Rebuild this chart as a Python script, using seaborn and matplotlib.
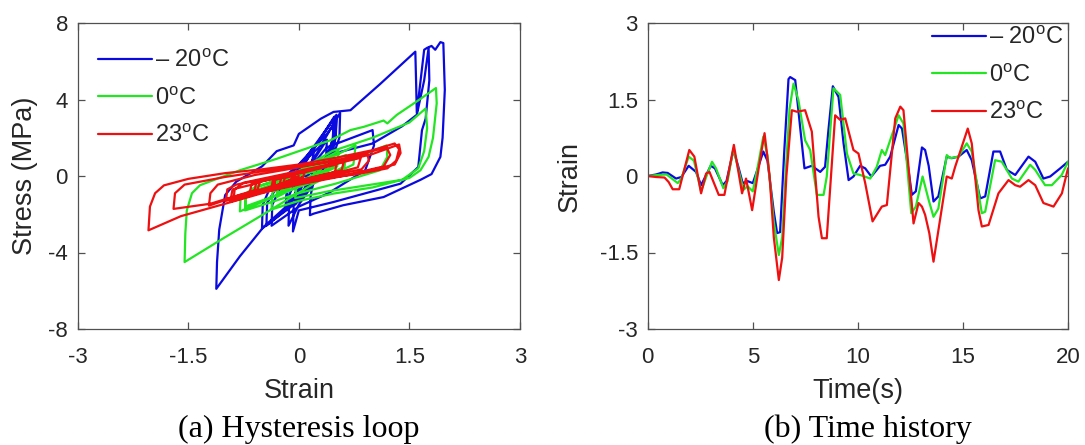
import matplotlib
matplotlib.use("Agg")
import matplotlib.pyplot as plt
import seaborn as sns
import pandas as pd

# ---------------- data ----------------
labels = ["\u2013 20$^{\\mathrm{o}}$C", "0$^{\\mathrm{o}}$C", "23$^{\\mathrm{o}}$C"]
colors = ["#0a0ae0", "#22e622", "#ee1010"]

# Hysteresis loops: (strain, stress) vertices, -20 degC
loop_m20_strain = [0.0, 0.07, 0.05, -0.05, -0.04, 0.2, 0.18, -0.18, -0.16, 0.2, 0.18, -0.18, -0.15,
                   0.51, 0.5, 0.45, 0.0, -0.14, -0.13, 0.0, 0.48, 0.46, 0.4, 0.0, -0.48, -0.8, -1.12,
                   -1.11, -1.08, -1.0, -0.85, -0.5, -0.3, -0.07, 0.0, 0.3, 0.47, 0.7, 1.1, 1.58, 1.59,
                   1.6, 1.7, 1.74, 1.8, 1.85, 1.92, 1.96, 1.98, 1.95, 1.92, 1.8, 1.65, 1.15, 0.6, 0.2,
                   0.15, 0.16, 0.2, 0.5, 1.0, 1.4, 1.6, 1.7, 1.76, 1.77, 1.72, 1.67, 1.62, 1.38, 0.47,
                   0.0, -0.08, -0.07, 0.2, 0.18, -0.01, 0.0, 0.38, 1.0, 1.02, 0.9, 0.4, 0.0, -0.37,
                   -0.36, -0.2, 0.3, 0.56, 0.55, 0.45, 0.0, -0.5, -0.49, -0.4, 0.0, 0.38, 0.51, 0.5,
                   0.4, 0.0, -0.44, -0.43, -0.3, 0.1, 0.48, 0.47, 0.35, 0.02, 0.03, 0.38, 0.37, -0.05,
                   -0.04, 0.28]
loop_m20_stress = [0.0, 0.5, 0.1, -0.6, -0.1, 1.4, 0.3, -1.6, -0.5, 1.5, 0.4, -1.8, -0.6,
                   3.2, 2.2, 1.0, -1.5, -2.6, -1.0, 0.2, 3.1, 2.0, 0.8, -1.0, -2.67, -4.2, -5.9,
                   -4.5, -2.8, -1.0, -0.3, 0.5, 1.3, 1.6, 2.2, 3.0, 3.35, 3.44, 4.8, 6.5, 5.0,
                   3.3, 6.6, 6.7, 6.8, 6.6, 7.0, 6.95, 4.5, 2.0, 1.0, 0.1, -0.2, -1.1, -1.53, -1.97,
                   -2.05, -1.0, -0.3, 1.2, 1.7, 2.6, 3.2, 5.0, 6.7, 5.0, 3.0, 2.39, 0.47, -0.4, -1.36,
                   -1.8, -2.9, -1.5, 0.8, 0.0, -1.2, -0.3, 1.5, 2.4, 1.6, 0.3, -0.9, -1.6, -2.6,
                   -1.5, -0.2, 1.6, 3.3, 2.0, 0.9, -1.3, -2.75, -1.5, -0.7, 0.6, 2.2, 2.9, 2.0,
                   0.8, -1.2, -2.6, -1.4, -0.6, 1.0, 3.0, 2.0, 0.8, -1.0, -0.2, 1.9, 1.0, -1.5,
                   -0.5, 1.4]

# 0 degC
loop_0_strain = [0.0, -0.14, -0.12, 0.38, 0.36, -0.3, -0.28, 0.28, 0.26, -0.24, -0.22, 0.54, 0.52,
                 -0.3, -0.28, 0.77, 0.74, 0.2, -0.54, -1.0, -1.55, -1.54, -1.52, -1.45, -1.34, -0.8,
                 -0.3, 0.0, 0.43, 0.7, 0.88, 1.15, 1.2, 1.33, 1.6, 1.86, 1.87, 1.82, 1.76, 1.65, 1.5,
                 1.0, 0.47, 0.0, -0.37, -0.36, -0.25, 0.1, 0.45, 1.0, 1.5, 1.72, 1.74, 1.7, 1.62,
                 1.4, 0.9, 0.4, 0.02, -0.05, -0.03, 0.51, 0.8, 1.19, 1.2, 1.1, 0.5, 0.0, -0.4, -0.73,
                 -0.72, -0.6, -0.3, 0.0, 0.02, -0.4, -0.8, -0.79, -0.6, 0.0, 0.41, 0.64, 0.62, 0.2,
                 -0.3, -0.73, -0.71, -0.4, 0.31, 0.28, -0.11, -0.09, 0.22, 0.2, -0.18, -0.16, 0.28]
loop_0_stress = [0.0, -0.5, -0.1, 0.9, 0.3, -0.9, -0.3, 0.8, 0.2, -0.8, -0.2, 1.3, 0.5,
                 -1.1, -0.4, 1.6, 0.6, -0.4, -2.14, -3.2, -4.5, -3.0, -1.8, -0.9, -0.48, 0.3,
                 0.9, 1.3, 1.87, 2.4, 2.57, 2.9, 2.75, 3.2, 3.9, 4.6, 3.8, 2.0, 1.0, 0.3, -0.1,
                 -0.6, -0.92, -1.3, -1.75, -0.9, -0.3, 0.5, 1.3, 2.0, 2.8, 3.53, 2.5, 1.3, 0.4,
                 -0.2, -0.5, -0.8, -1.1, -1.15, -0.5, 0.6, 1.0, 1.6, 1.0, 0.3, -0.4, -0.9, -1.4, -1.8,
                 -1.0, -0.6, -0.2, 0.2, -0.3, -1.2, -1.85, -1.1, -0.6, 0.1, 0.75, 1.1, 0.5, -0.3,
                 -1.0, -1.6, -0.9, -0.5, 0.5, 0.1, -0.45, -0.1, 0.3, 0.0, -0.55, -0.2, 0.35]

# 23 degC
loop_23_strain = [0.0, -0.26, -0.24, 0.51, 0.49, -0.34, -0.32, 0.08, 0.06, -0.37, -0.35, 0.61, 0.58,
                  -0.34, -0.32, -0.05, -0.07, -0.67, -0.64, 0.84, 0.8, 0.0, -1.0, -1.6, -2.04, -2.02,
                  -1.95, -1.83, -1.5, -1.0, -0.5, 0.0, 0.5, 1.0, 1.3, 1.36, 1.32, 1.2, 0.8, 0.3, -0.3,
                  -0.8, -1.22, -1.2, -1.1, -0.6, 0.0, 0.6, 1.19, 1.24, 1.15, 0.7, 0.0, -0.5, -0.89,
                  -0.87, -0.75, -0.2, 0.4, 1.0, 1.36, 1.38, 1.3, 0.8, 0.0, -0.6, -0.93, -0.9, -0.53,
                  -0.56, -1.2, -1.7, -1.68, -1.55, -1.0, -0.4, 0.18, 0.6, 0.93, 0.95, 0.85, 0.3, -0.4,
                  -0.99, -0.97, -0.85, -0.3, -0.08, -0.1, -0.21, -0.19, -0.08, -0.1, -0.6, -0.58, -0.3,
                  0.15]
loop_23_stress = [0.0, -0.45, -0.1, 0.6, 0.2, -0.55, -0.15, 0.25, -0.05, -0.6, -0.15, 0.75, 0.3,
                  -0.55, -0.2, 0.1, -0.2, -0.95, -0.4, 0.95, 0.45, -0.35, -1.45, -2.1, -2.84, -1.6,
                  -0.9, -0.49, -0.15, 0.15, 0.35, 0.6, 0.95, 1.35, 1.7, 1.4, 0.8, 0.4, 0.1, -0.15, -0.55,
                  -1.0, -1.55, -0.9, -0.45, 0.05, 0.45, 0.9, 1.5, 1.1, 0.5, 0.1, -0.4, -0.85, -1.3,
                  -0.7, -0.35, 0.1, 0.6, 1.15, 1.65, 1.2, 0.6, 0.15, -0.45, -0.95, -1.35, -0.7, -0.35,
                  -0.7, -1.45, -1.72, -0.9, -0.45, -0.05, 0.3, 0.6, 0.85, 1.15, 0.8, 0.35, -0.1, -0.65,
                  -1.3, -0.7, -0.45, -0.05, 0.1, -0.2, -0.35, -0.1, 0.0, -0.25, -0.8, -0.35, -0.1,
                  0.3]

# Strain time histories
t_m20 = [0, 0.4, 0.71, 0.95, 1.35, 1.6, 1.95, 2.3, 2.54, 3.0, 3.2, 3.57, 3.75, 4.08, 4.3, 4.52, 4.75,
         5.0, 5.2, 5.5, 5.7, 6.0, 6.16, 6.3, 6.5, 6.7, 6.78, 7.02, 7.25, 7.46, 7.81, 8.21, 8.44, 8.6,
         8.81, 9.08, 9.32, 9.56, 9.79, 10.11, 10.35, 10.64, 11.06, 11.3, 11.54, 11.94, 12.1, 12.41,
         12.57, 12.76, 13.05, 13.2, 13.37, 13.6, 13.83, 14.23, 14.47, 14.79, 15.18, 15.42, 15.82,
         16.06, 16.45, 16.77, 17.09, 17.49, 18.12, 18.44, 18.83, 19.15, 19.63, 20]
s_m20 = [0, 0.03, 0.07, 0.06, -0.05, -0.02, 0.2, 0.08, -0.18, 0.2, 0.15, -0.18, -0.1, 0.51, 0.2, -0.14,
         -0.1, -0.14, 0.1, 0.48, 0.3, -0.7, -1.12, -1.1, 0.5, 1.9, 1.94, 1.88, 0.97, 0.15, 0.2, 0.08,
         0.18, 0.9, 1.76, 1.55, 0.64, -0.08, -0.01, 0.2, 0.15, -0.01, 0.2, 0.22, 0.38, 1.0, 0.93, 0.12,
         -0.37, -0.3, 0.56, 0.51, 0.2, -0.5, -0.4, 0.38, 0.35, 0.38, 0.51, 0.31, -0.44, -0.4, 0.48,
         0.48, 0.12, 0.02, 0.38, 0.28, -0.05, -0.01, 0.15, 0.28]

t_0 = [0, 0.5, 0.9, 1.43, 1.6, 1.95, 2.2, 2.54, 2.8, 3.06, 3.25, 3.6, 3.8, 4.08, 4.3, 4.56, 4.75, 5.0,
       5.2, 5.5, 5.7, 6.0, 6.24, 6.4, 6.6, 6.75, 6.94, 7.17, 7.49, 7.73, 8.05, 8.37, 8.52, 8.84, 9.16,
       9.48, 9.79, 10.11, 10.59, 10.9, 11.14, 11.3, 11.94, 12.17, 12.54, 12.76, 13.08, 13.37, 13.6,
       13.83, 14.23, 14.39, 14.79, 15.18, 15.42, 15.9, 16.06, 16.53, 16.85, 17.33, 17.64, 18.2,
       18.44, 18.91, 19.23, 19.7, 20]
s_0 = [0, 0.02, 0.03, -0.14, -0.05, 0.38, 0.3, -0.3, 0.0, 0.28, 0.15, -0.24, -0.1, 0.54, 0.15, -0.27,
       -0.2, -0.3, 0.1, 0.77, 0.4, -0.9, -1.55, -1.2, 0.3, 1.32, 1.81, 1.49, 0.7, 0.51, -0.37, -0.37,
       -0.01, 1.72, 1.59, 0.44, 0.05, 0.02, -0.05, 0.18, 0.51, 0.41, 1.19, 1.03, -0.73, -0.6, -0.01,
       -0.47, -0.8, -0.64, 0.41, 0.35, 0.38, 0.64, 0.48, -0.73, -0.7, 0.31, 0.28, -0.05, -0.11, 0.22,
       0.12, -0.18, -0.18, 0.02, 0.28]

t_23 = [0, 0.4, 0.8, 1.0, 1.19, 1.5, 1.98, 2.22, 2.54, 2.78, 2.94, 3.38, 3.65, 4.1, 4.49, 4.68, 4.97,
        5.3, 5.56, 5.8, 6.0, 6.24, 6.4, 6.6, 6.86, 7.1, 7.49, 7.81, 8.13, 8.29, 8.52, 8.92, 9.16, 9.4,
        9.79, 10.03, 10.35, 10.7, 11.14, 11.38, 11.78, 12.02, 12.17, 12.65, 12.89, 13.05, 13.2, 13.4,
        13.6, 13.91, 14.23, 14.47, 14.63, 15.23, 15.42, 15.74, 15.9, 16.22, 16.69, 17.17, 17.49,
        17.72, 18.12, 18.44, 18.83, 19.31, 19.71, 20]
s_23 = [0, -0.02, -0.03, -0.12, -0.26, -0.26, 0.51, 0.38, -0.34, 0.05, 0.08, -0.37, -0.37, 0.61, -0.34,
        -0.05, -0.67, 0.2, 0.84, 0.0, -1.2, -2.04, -1.6, 0.0, 1.29, 1.26, 1.29, 0.87, -0.8, -1.22, -1.22,
        1.19, 1.1, 1.13, 0.51, 0.44, -0.14, -0.89, -0.6, -0.57, 1.13, 1.36, 1.29, -0.93, -0.53, -0.6,
        -0.76, -1.12, -1.68, -0.86, -0.01, -0.05, 0.18, 0.93, 0.64, -0.67, -0.99, -0.96, -0.34, -0.08,
        -0.18, -0.21, -0.08, -0.18, -0.53, -0.6, -0.34, 0.15]

loops = [(loop_m20_strain, loop_m20_stress), (loop_0_strain, loop_0_stress),
         (loop_23_strain, loop_23_stress)]
histories = [(t_m20, s_m20), (t_0, s_0), (t_23, s_23)]

# ---------------- style ----------------
sns.set_theme(style="white")
plt.rcParams["font.family"] = ["Liberation Sans", "DejaVu Sans"]
plt.rcParams["mathtext.fontset"] = "custom"
plt.rcParams["mathtext.rm"] = "Liberation Sans"
plt.rcParams["mathtext.it"] = "Liberation Sans:italic"
plt.rcParams["axes.unicode_minus"] = False

W, H = 1085, 445
fig = plt.figure(figsize=(W / 100, H / 100), dpi=100)
fig.patch.set_facecolor("white")


def px_axes(x0, y0, x1, y1):
    return fig.add_axes([x0 / W, 1 - y1 / H, (x1 - x0) / W, (y1 - y0) / H])


ax1 = px_axes(77.7, 23, 520, 329)
ax2 = px_axes(647.7, 23, 1068, 329)

for (xs, ys), lab, col in zip(loops, labels, colors):
    df = pd.DataFrame({"Strain": xs, "Stress": ys})
    sns.lineplot(data=df, x="Strain", y="Stress", sort=False, estimator=None,
                 color=col, lw=1.6, label=lab, ax=ax1)

for (ts, ss), lab, col in zip(histories, labels, colors):
    df = pd.DataFrame({"Time": ts, "Strain": ss})
    sns.lineplot(data=df, x="Time", y="Strain", sort=False, estimator=None,
                 color=col, lw=1.6, label=lab, ax=ax2)

ax1.set_xlim(-3, 3)
ax1.set_ylim(-8, 8)
ax1.set_xticks([-3, -1.5, 0, 1.5, 3])
ax1.set_xticklabels(["-3", "-1.5", "0", "1.5", "3"])
ax1.set_yticks([-8, -4, 0, 4, 8])
ax2.set_xlim(0, 20)
ax2.set_ylim(-3, 3)
ax2.set_xticks([0, 5, 10, 15, 20])
ax2.set_yticks([-3, -1.5, 0, 1.5, 3])
ax2.set_yticklabels(["-3", "-1.5", "0", "1.5", "3"])

for ax in (ax1, ax2):
    for sp in ax.spines.values():
        sp.set_visible(True)
        sp.set_color("#505050")
        sp.set_linewidth(0.9)
    ax.tick_params(direction="in", length=5, width=0.9, color="#505050",
                   labelsize=16, labelcolor="#262626",
                   top=True, right=True, bottom=True, left=True)
    ax.tick_params(axis="x", pad=13)
    ax.tick_params(axis="y", pad=7)

ax1.set_xlabel("Strain", fontsize=19.5, color="#262626")
ax1.set_ylabel("Stress (MPa)", fontsize=19.5, color="#262626")
ax2.set_xlabel("Time(s)", fontsize=19.5, color="#262626")
ax2.set_ylabel("Strain", fontsize=19.5, color="#262626")
for ax, yx in ((ax1, (25 - 77.7) / 442.3), (ax2, (570 - 647.7) / 420.3)):
    ax.xaxis.label.set_va("center")
    ax.yaxis.label.set_va("center")
    ax.yaxis.label.set_ha("center")
    ax.xaxis.set_label_coords(0.5, (329 - 391) / 306)
    ax.yaxis.set_label_coords(yx, 0.5)

leg_kw = dict(frameon=False, fontsize=17, handlelength=2.3, handletextpad=0.12,
              labelspacing=0.64, borderpad=0, borderaxespad=0, loc="upper left")
ax1.legend(bbox_to_anchor=((98 - 77.7) / 442.3, (329 - 50) / 306), **leg_kw)
ax2.legend(bbox_to_anchor=((932 - 647.7) / 420.3, (329 - 27) / 306), **leg_kw)

fig.text(298.5 / W, 8.5 / H, "(a) Hysteresis loop", family="Liberation Serif",
         fontsize=23, ha="center", va="baseline", color="black")
fig.text(868 / W, 8.5 / H, "(b) Time history", family="Liberation Serif",
         fontsize=23, ha="center", va="baseline", color="black")

fig.savefig("out.png", dpi=100, facecolor="white")
